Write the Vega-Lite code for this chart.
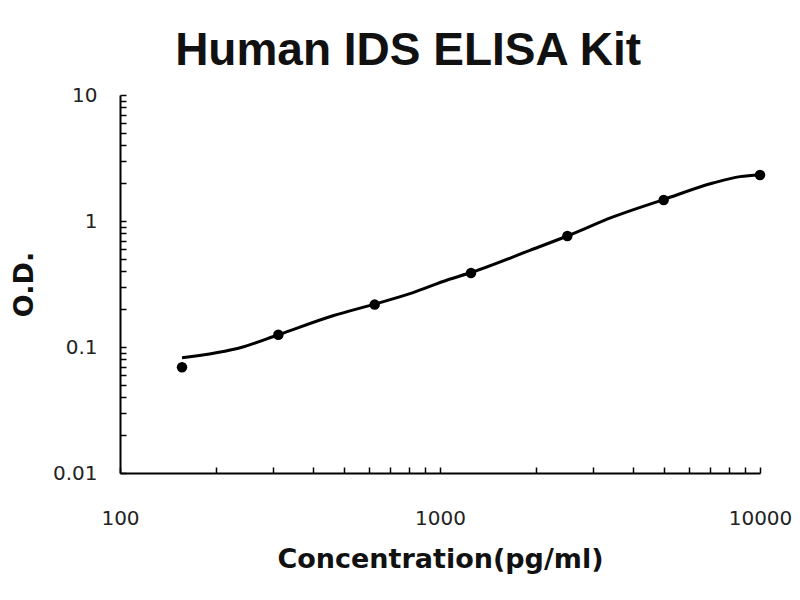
{
  "$schema": "https://vega.github.io/schema/vega-lite/v6.json",
  "width": 640,
  "height": 378,
  "autosize": {"type": "none"},
  "padding": {"left": 120, "top": 95, "right": 40, "bottom": 127},
  "background": "white",
  "title": {
    "text": "Human IDS ELISA Kit",
    "font": "Liberation Sans",
    "fontSize": 46,
    "fontWeight": "bold",
    "color": "#111",
    "anchor": "middle",
    "frame": "bounds",
    "baseline": "alphabetic",
    "offset": 18,
    "dx": 7,
    "dy": 44
  },
  "config": {
    "view": {"stroke": null},
    "axis": {
      "grid": false,
      "domainColor": "black",
      "domainWidth": 2,
      "tickColor": "black",
      "tickWidth": 1.5,
      "tickSize": -6,
      "labelFont": "DejaVu Sans",
      "labelFontSize": 20,
      "labelColor": "#222",
      "labelOverlap": false,
      "labelFlush": false,
      "labelBound": false,
      "titleFont": "DejaVu Sans",
      "titleFontWeight": "bold",
      "titleFontSize": 27,
      "titleColor": "#111"
    }
  },
  "datasets": {
    "standards": [
      {"conc": 156.25, "od": 0.069},
      {"conc": 312.5, "od": 0.125},
      {"conc": 625, "od": 0.217},
      {"conc": 1250, "od": 0.387},
      {"conc": 2500, "od": 0.76},
      {"conc": 5000, "od": 1.47},
      {"conc": 10000, "od": 2.32}
    ],
    "fit": [
      {"conc": 156.25, "od": 0.082},
      {"conc": 242, "od": 0.1},
      {"conc": 312.5, "od": 0.125},
      {"conc": 463, "od": 0.177},
      {"conc": 625, "od": 0.219},
      {"conc": 824, "od": 0.27},
      {"conc": 1059, "od": 0.342},
      {"conc": 1250, "od": 0.39},
      {"conc": 1910, "od": 0.585},
      {"conc": 2500, "od": 0.76},
      {"conc": 3474, "od": 1.077},
      {"conc": 5000, "od": 1.48},
      {"conc": 7130, "od": 2.0},
      {"conc": 8660, "od": 2.25},
      {"conc": 10000, "od": 2.32}
    ]
  },
  "encoding": {
    "x": {
      "field": "conc",
      "type": "quantitative",
      "scale": {"type": "log", "domain": [100, 10000], "nice": false},
      "axis": {
        "title": "Concentration(pg/ml)",
        "values": [100, 200, 300, 400, 500, 600, 700, 800, 900, 1000, 2000, 3000, 4000, 5000, 6000, 7000, 8000, 9000, 10000],
        "labelExpr": "indexof(['100', '1000', '10000'], format(datum.value, '~g')) >= 0 ? format(datum.value, '~g') : ''",
        "labelPadding": 41,
        "titlePadding": 18
      }
    },
    "y": {
      "field": "od",
      "type": "quantitative",
      "scale": {"type": "log", "domain": [0.01, 10], "nice": false},
      "axis": {
        "title": "O.D.",
        "values": [0.01, 0.02, 0.03, 0.04, 0.05, 0.06, 0.07, 0.08, 0.09, 0.1, 0.2, 0.3, 0.4, 0.5, 0.6, 0.7, 0.8, 0.9, 1, 2, 3, 4, 5, 6, 7, 8, 9, 10],
        "labelExpr": "indexof(['0.01', '0.1', '1', '10'], format(datum.value, '~g')) >= 0 ? format(datum.value, '~g') : ''",
        "labelPadding": 29,
        "titlePadding": 14
      }
    }
  },
  "layer": [
    {
      "data": {"name": "fit"},
      "mark": {"type": "line", "interpolate": "monotone", "color": "black", "strokeWidth": 3}
    },
    {
      "data": {"name": "standards"},
      "mark": {"type": "point", "filled": true, "color": "black", "size": 110, "opacity": 1}
    }
  ]
}
